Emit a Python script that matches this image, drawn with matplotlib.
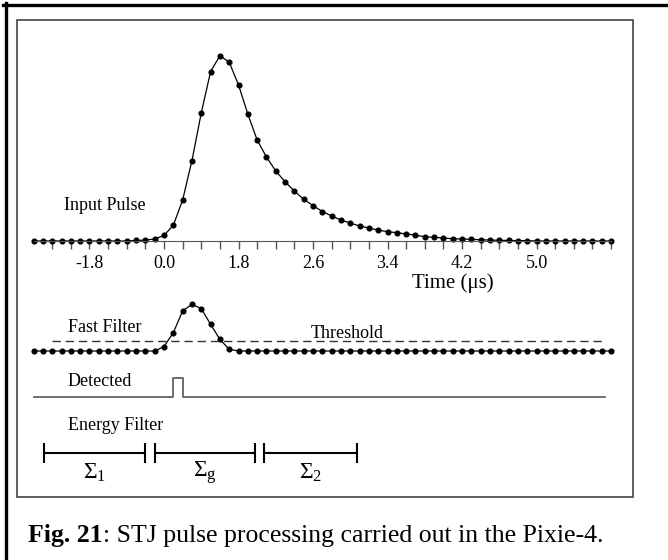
import matplotlib.pyplot as plt
import numpy as np
from matplotlib.lines import Line2D
from matplotlib.patches import Rectangle

plt.rcParams['font.family'] = ['Liberation Serif', 'DejaVu Serif']
plt.rcParams['mathtext.fontset'] = 'custom'
plt.rcParams['mathtext.rm'] = 'Liberation Serif'
plt.rcParams['mathtext.it'] = 'Liberation Serif:italic'
plt.rcParams['mathtext.bf'] = 'Liberation Serif:bold'

# sample grid: one sample every 0.225 us
time_us = np.arange(-14, 49) * 0.225

# input pulse, percent of peak amplitude
input_pulse = [0, 0, 0, 0, 0, 0, 0, 0, 0, 0, 0,
               0.3, 0.5, 1.1, 3.0, 8.5, 22.1, 43.4, 69.1, 91.4, 100.0,
               96.5, 84.2, 68.5, 54.5, 45.3, 37.8, 32.0, 26.9, 22.5, 19.1,
               15.9, 13.5, 11.3, 9.7, 8.1, 7.0, 5.9, 5.0, 4.5, 3.8,
               3.1, 2.3, 2.0, 1.6, 1.2, 1.1, 0.9, 0.7, 0.5, 0.4,
               0.3, 0.2, 0.2, 0, 0, 0, 0, 0, 0, 0, 0, 0]

# fast filter output, same units
fast_filter = [0, 0, 0, 0, 0, 0, 0, 0, 0, 0, 0, 0, 0, 0,
               2.4, 9.9, 21.6, 25.2, 22.9, 14.4, 6.3, 0.9,
               0, 0, 0, 0, 0, 0, 0, 0, 0, 0, 0, 0, 0, 0, 0, 0, 0, 0, 0, 0,
               0, 0, 0, 0, 0, 0, 0, 0, 0, 0, 0, 0, 0, 0, 0, 0, 0, 0, 0, 0,
               0]
threshold = 5.4
threshold_span = [-2.7, 10.65]

# trigger (detected) logic signal
detected_t = [-3.15, 0.225, 0.225, 0.45, 0.45, 10.65]
detected_v = [0, 0, 1, 1, 0, 0]

# energy filter sum windows (us)
window_start = [-2.9, -0.225, 2.425]
window_end = [-0.45, 2.2, 4.65]
window_names = [r'$\Sigma_1$', r'$\Sigma_\mathrm{g}$', r'$\Sigma_2$']

tick_pos = [-1.8, 0.0, 1.8, 3.6, 5.4, 7.2, 9.0]
tick_labels = ['-1.8', '0.0', '1.8', '2.6', '3.4', '4.2', '5.0']
minor_pos = np.arange(-6, 25) * 0.45

# vertical layout (axes units = pixels from the inner box bottom)
scale = 1.853
input_base = 256
fast_base = 146
detected_base = 100.3
detected_height = 18.4
energy_y = 44.5

fig = plt.figure(figsize=(6.68, 5.6), dpi=100)
ax = fig.add_axes([17 / 668, 63 / 560, 616 / 668, 477 / 560])
ax.set_xlim(-3.551, 11.329)
ax.set_ylim(0, 477)

y_in = input_base + scale * np.array(input_pulse)
ax.plot(time_us, y_in, color='black', lw=0.9, marker='o', markersize=3.4)

y_ff = fast_base + scale * np.array(fast_filter)
ax.plot(time_us, y_ff, color='black', lw=0.9, marker='o', markersize=3.4)
ax.plot(threshold_span, [fast_base + scale * threshold] * 2, color='#333333',
        lw=1, dashes=(6, 3.5))

ax.plot(detected_t, detected_base + detected_height * np.array(detected_v),
        color='#555555', lw=1.2)

ax.hlines([energy_y] * 3, window_start, window_end, color='black', lw=1.5)
ax.vlines(window_start + window_end, energy_y - 10, energy_y + 10, color='black', lw=1.5)
for a, b, name in zip(window_start, window_end, window_names):
    ax.text((a + b) / 2, energy_y - 20, name, ha='center', va='center', fontsize=17)

# axis of the input pulse
for side in ['left', 'right', 'top']:
    ax.spines[side].set_visible(False)
ax.spines['bottom'].set_position(('data', input_base))
ax.spines['bottom'].set_bounds(time_us[0], time_us[-1])
ax.spines['bottom'].set_color('#555555')
ax.set_xticks(tick_pos, tick_labels)
ax.set_xticks(minor_pos, minor=True)
ax.tick_params(which='both', direction='out', length=6, width=1, color='#555555')
ax.tick_params(axis='x', labelsize=13, pad=4)
ax.set_yticks([])
ax.text(6.98, 214, 'Time (\u03bcs)', ha='center', va='center', fontsize=15)

ax.text(-2.415, 291, 'Input Pulse', ha='left', va='center', fontsize=13)
ax.text(-2.32, 169, 'Fast Filter', ha='left', va='center', fontsize=13)
ax.text(4.42, 164, 'Threshold', ha='center', va='center', fontsize=13)
ax.text(-2.32, 115, 'Detected', ha='left', va='center', fontsize=13)
ax.text(-2.32, 71, 'Energy Filter', ha='left', va='center', fontsize=13)

ax.add_patch(Rectangle((0, 0), 1, 1, transform=ax.transAxes, fill=False,
                       edgecolor='#444444', lw=1.2, clip_on=False))

# outer frame (top and left edges) and caption
fig.add_artist(Line2D([3 / 668, 1], [1 - 5 / 560] * 2, color='black', lw=2.4))
fig.add_artist(Line2D([5.5 / 668] * 2, [0, 1 - 3 / 560], color='black', lw=2.4))
cap = fig.text(28 / 668, 1 - 547 / 560, 'Fig. 21', ha='left', va='bottom',
               fontsize=18.5, fontweight='bold')
ax.annotate(': STJ pulse processing carried out in the Pixie-4.', xy=(1, 0),
            xycoords=cap, fontsize=18.5, ha='left', va='bottom', annotation_clip=False)
plt.savefig('out.png', dpi=100)
plt.close(fig)
